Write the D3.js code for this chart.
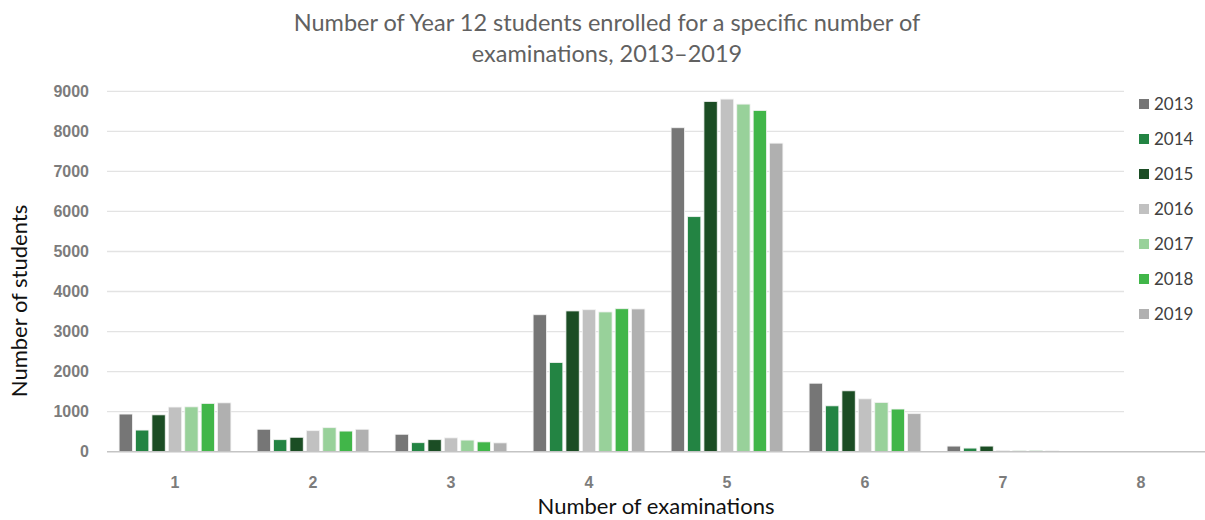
<!DOCTYPE html>
<html>
<head>
<meta charset="utf-8">
<script src="https://cdn.jsdelivr.net/npm/d3@7"></script>
<style>
  body { margin: 0; background: #fff; }
  svg { display: block; }
</style>
</head>
<body>
<div id="chart-area"></div>
<script>
// number of examinations
var exams = ["1", "2", "3", "4", "5", "6", "7", "8"];
var years = ["2013", "2014", "2015", "2016", "2017", "2018", "2019"];
var colors = ["#767676", "#238443", "#1b4d24", "#c1c1c1", "#98d19a", "#41b649", "#b0b0b0"];
var yTicks = [0, 1000, 2000, 3000, 4000, 5000, 6000, 7000, 8000, 9000];

// students per year, one value per number of examinations
var v2013 = [940, 560, 435, 3420, 8090, 1710, 140, 5];
var v2014 = [540, 300, 225, 2225, 5870, 1145, 90, 3];
var v2015 = [920, 360, 300, 3515, 8745, 1520, 140, 4];
var v2016 = [1115, 525, 345, 3545, 8805, 1320, 30, 2];
var v2017 = [1120, 600, 290, 3490, 8680, 1230, 30, 2];
var v2018 = [1205, 515, 245, 3570, 8520, 1065, 30, 2];
var v2019 = [1220, 560, 220, 3565, 7705, 950, 20, 2];
var series = [v2013, v2014, v2015, v2016, v2017, v2018, v2019];

var width = 1205, height = 520;
var svg = d3.select("#chart-area").append("svg")
    .attr("width", width)
    .attr("height", height)
    .style("font-family", "Lato, 'Open Sans', sans-serif");

var x0 = d3.scaleBand()
    .domain(exams)
    .range([106, 1210])
    .paddingInner(0.19)
    .paddingOuter(0.095);
var x1 = d3.scaleBand()
    .domain(years)
    .range([0, x0.bandwidth()])
    .paddingInner(0.19);
var y = d3.scaleLinear()
    .domain([0, 9000])
    .range([451.7, 91.3]);

// gridlines
svg.append("g")
  .selectAll("line")
  .data(yTicks.slice(1))
  .enter()
  .append("line")
    .attr("x1", 107)
    .attr("x2", 1124)
    .attr("y1", (d)=>{ return y(d); })
    .attr("y2", (d)=>{ return y(d); })
    .attr("stroke", "#e3e3e3")
    .attr("stroke-width", 1.3);

// bars
var groups = svg.append("g")
  .selectAll("g")
  .data(years)
  .enter()
  .append("g")
    .attr("fill", (d,i)=>{ return colors[i]; });
groups.selectAll("rect")
  .data((d,i)=>{ return series[i].map((v,j)=>{ return {year: d, exam: exams[j], value: v}; }); })
  .enter()
  .append("rect")
    .attr("x", (d)=>{ return x0(d.exam) + x1(d.year); })
    .attr("y", (d)=>{ return y(d.value); })
    .attr("width", x1.bandwidth())
    .attr("height", (d)=>{ return y(0) - y(d.value); })
    .attr("stroke", "#f2f2f2")
    .attr("stroke-width", 0.8);

// axes
var yAxis = d3.axisLeft(y).tickValues(yTicks).tickFormat(d3.format("d")).tickSize(0).tickPadding(18);
svg.append("g")
    .attr("transform", "translate(107,0)")
    .call(yAxis)
    .call((g)=>{ g.select(".domain").remove(); })
    .selectAll("text")
      .attr("fill", "#7c7c7c")
      .attr("font-size", 16)
      .attr("font-weight", "bold")
      .attr("font-family", "'Liberation Sans', Arial, sans-serif");

var xAxis = d3.axisBottom(x0).tickSize(0).tickPadding(25);
svg.append("g")
    .attr("transform", "translate(0," + y(0) + ")")
    .call(xAxis)
    .call((g)=>{ g.select(".domain").remove(); })
    .selectAll("text")
      .attr("fill", "#7c7c7c")
      .attr("font-size", 16)
      .attr("font-weight", "bold")
      .attr("font-family", "'Liberation Sans', Arial, sans-serif");

svg.append("line")
    .attr("x1", 107)
    .attr("x2", 1205)
    .attr("y1", y(0))
    .attr("y2", y(0))
    .attr("stroke", "#c4c4c4")
    .attr("stroke-width", 1.5);

// titles
var title = svg.append("text")
    .attr("text-anchor", "middle")
    .attr("fill", "#616161")
    .attr("font-size", 23.5);
title.append("tspan").attr("x", 607).attr("y", 31)
    .text("Number of Year 12 students enrolled for a specific number of");
title.append("tspan").attr("x", 607).attr("y", 62)
    .text("examinations, 2013\u20132019");

svg.append("text")
    .attr("x", 656)
    .attr("y", 514)
    .attr("text-anchor", "middle")
    .attr("fill", "#111")
    .attr("font-size", 22)
    .text("Number of examinations");

svg.append("text")
    .attr("transform", "translate(27,301) rotate(-90)")
    .attr("text-anchor", "middle")
    .attr("fill", "#111")
    .attr("font-size", 22)
    .text("Number of students");

// legend
var legend = svg.append("g")
  .selectAll("g")
  .data(years)
  .enter()
  .append("g")
    .attr("transform", (d,i)=>{ return "translate(1139," + (104 + i*35) + ")"; });
legend.append("rect")
    .attr("x", 0)
    .attr("y", -5)
    .attr("width", 10)
    .attr("height", 10)
    .attr("fill", (d,i)=>{ return colors[i]; });
legend.append("text")
    .attr("x", 15)
    .attr("y", 6)
    .attr("fill", "#404040")
    .attr("font-size", 17)
    .text((d)=>{ return d; });
</script>
</body>
</html>
